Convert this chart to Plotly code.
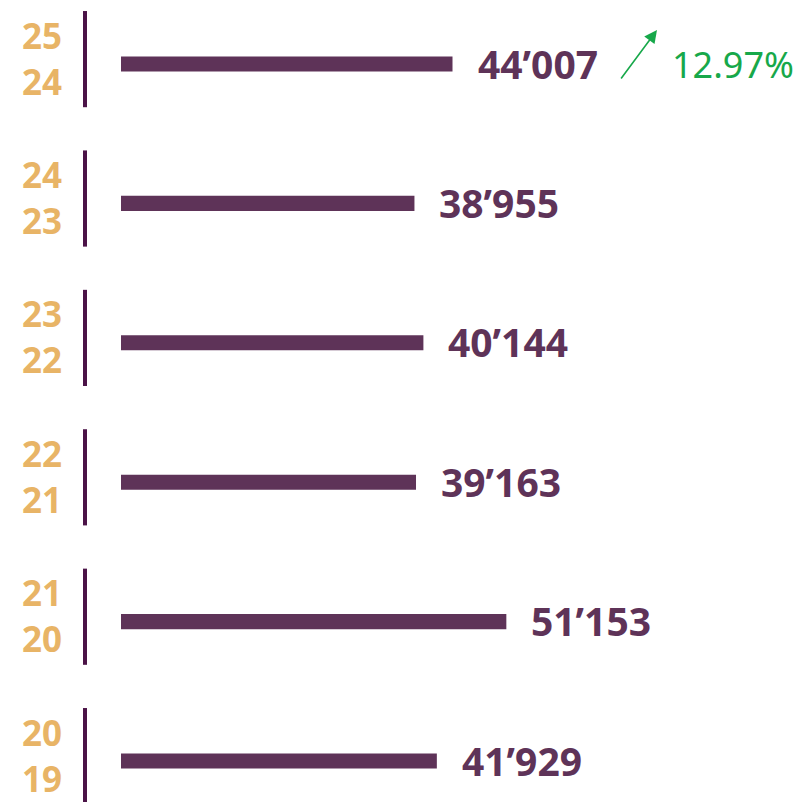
import plotly.graph_objects as go

periods_top = ["25", "24", "23", "22", "21", "20"]
periods_bottom = ["24", "23", "22", "21", "20", "19"]
values = [44007, 38955, 40144, 39163, 51153, 41929]

BAR = "#5E3358"
SEP = "#4B1347"
GOLD = "#E8B466"
GREEN = "#17A84A"

W, H = 798, 802
px_per_unit = 0.007533
x0_px = 121
row0_px = 64
row_step = 139.4

idx = list(range(len(values)))

fig = go.Figure()
fig.add_trace(go.Bar(
    x=values, y=idx, orientation="h", width=0.108,
    marker=dict(color=BAR, line=dict(width=0)), hoverinfo="skip",
))

anns = []
shapes = []
for i, v in enumerate(values):
    anns.append(dict(
        x=v, y=i, xref="x", yref="y", text=f"{v:,}".replace(",", "\u2019"),
        showarrow=False, xanchor="left", yanchor="middle", xshift=23, yshift=1,
        font=dict(family="Noto Sans", size=39, color=BAR, weight="bold"),
    ))
    anns.append(dict(
        x=42 / W, y=i, xref="paper", yref="y",
        text=f"{periods_top[i]}<br>{periods_bottom[i]}",
        showarrow=False, xanchor="center", yanchor="middle", yshift=6,
        font=dict(family="Noto Sans", size=35, color=GOLD, weight="bold"),
    ))
    shapes.append(dict(
        type="line", xref="paper", yref="y", x0=85 / W, x1=85 / W,
        y0=i - 0.38, y1=i + 0.31, line=dict(color=SEP, width=4),
    ))

pct = (values[0] / values[1] - 1) * 100
anns.append(dict(
    x=657 / W, y=1 - 30 / H, xref="paper", yref="paper", text="",
    showarrow=True, ax=-37, ay=50, arrowhead=2, arrowsize=1.6,
    arrowwidth=1.6, arrowcolor=GREEN,
))
anns.append(dict(
    x=670 / W, y=0, xref="paper", yref="y", text=f"{pct:.2f}%",
    showarrow=False, xanchor="left", yanchor="middle",
    font=dict(family="Noto Sans", size=36, color=GREEN),
))

fig.update_layout(
    width=W, height=H, margin=dict(l=0, r=0, t=0, b=0),
    paper_bgcolor="white", plot_bgcolor="white", showlegend=False,
    xaxis=dict(range=[-x0_px / px_per_unit, (W - x0_px) / px_per_unit],
               visible=False, fixedrange=True),
    yaxis=dict(range=[(H - row0_px) / row_step, -row0_px / row_step],
               visible=False, fixedrange=True),
    annotations=anns, shapes=shapes,
)

fig.write_html(
    "out.html",
    config={"displayModeBar": False},
    post_script="document.body.style.margin='0';document.body.style.overflow='hidden';",
)
